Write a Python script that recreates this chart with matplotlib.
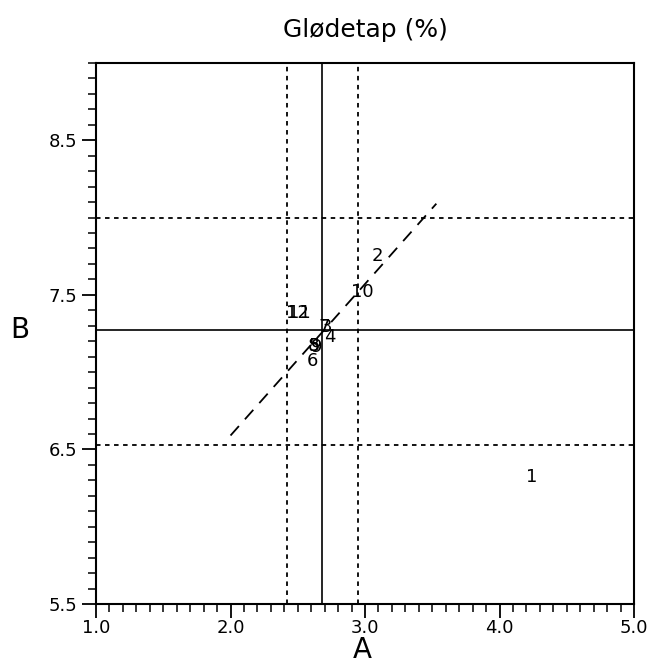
import matplotlib
matplotlib.use("Agg")
import matplotlib.pyplot as plt
from matplotlib.ticker import MultipleLocator

# point labels and their positions (A, B)
labels = ["1", "2", "3", "4", "5", "6", "7", "8", "9", "10", "11", "12"]
a_vals = [4.24, 3.09, 2.71, 2.74, 2.62, 2.61, 2.70, 2.62, 2.64, 2.98, 2.51, 2.50]
b_vals = [6.32, 7.75, 7.29, 7.23, 7.17, 7.07, 7.29, 7.17, 7.16, 7.52, 7.38, 7.38]

# mean lines (solid) and limits (dotted)
a_mean = 2.68
a_limits = [2.42, 2.95]
b_mean = 7.27
b_limits = [6.53, 8.00]

# regression line end points
reg_a = [2.00, 3.53]
reg_b = [6.59, 8.09]

fig = plt.figure(figsize=(6.47, 6.69), dpi=100)
ax = fig.add_axes([0.1484, 0.0972, 0.8316, 0.8086])

ax.axvline(a_mean, color="black", lw=1.2)
ax.axhline(b_mean, color="black", lw=1.2)
for v in a_limits:
    ax.axvline(v, color="black", lw=1.3, ls=(0, (2.5, 2.5)))
for v in b_limits:
    ax.axhline(v, color="black", lw=1.3, ls=(0, (2.5, 2.5)))

ax.plot(reg_a, reg_b, color="black", lw=1.3, ls=(0, (7, 5)))

for lab, a, b in zip(labels, a_vals, b_vals):
    ax.text(a, b, lab, ha="center", va="center", fontsize=13)

ax.set_xlim(1.0, 5.0)
ax.set_ylim(5.5, 9.0)
ax.set_xticks([1.0, 2.0, 3.0, 4.0, 5.0])
ax.set_yticks([5.5, 6.5, 7.5, 8.5])
ax.set_xticklabels(["1.0", "2.0", "3.0", "4.0", "5.0"])
ax.set_yticklabels(["5.5", "6.5", "7.5", "8.5"])
ax.xaxis.set_minor_locator(MultipleLocator(0.1))
ax.yaxis.set_minor_locator(MultipleLocator(0.1))
ax.tick_params(which="major", direction="out", length=10, width=1.3, labelsize=13)
ax.tick_params(which="minor", direction="out", length=6, width=1.1)
ax.tick_params(axis="x", pad=1)
for s in ax.spines.values():
    s.set_linewidth(1.5)

fig.text(0.565, 0.955, "Glødetap (%)", ha="center", va="center", fontsize=18)
fig.text(0.031, 0.506, "B", ha="center", va="center", fontsize=20)
fig.text(0.56, 0.028, "A", ha="center", va="center", fontsize=20)

plt.savefig("out.png", dpi=100)
